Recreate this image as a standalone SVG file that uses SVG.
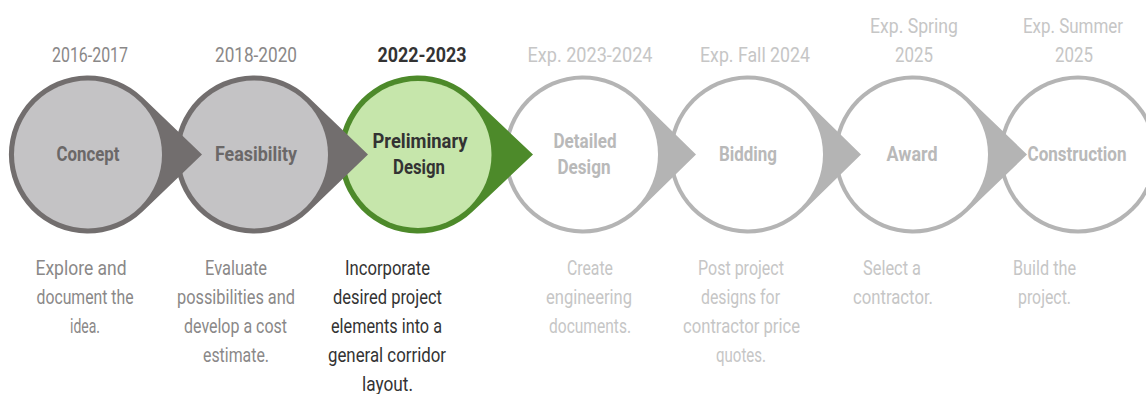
<svg xmlns="http://www.w3.org/2000/svg" width="1146" height="394" viewBox="0 0 1146 394">
<style>
text{font-family:"Liberation Sans Narrow","Roboto","Liberation Sans",sans-serif;text-anchor:middle}
.yr{font-size:21px}
.lb{font-size:20px;font-weight:bold}
.ds{font-size:19.5px}
.dk{fill:#8a8888}
.dkc{fill:#6b6868}
.cur{fill:#333333}
.lt{fill:#c6c6c6}
.ltc{fill:#b9b9b9}
.ring-dk{fill:#726e6e}.in-dk{fill:#c4c3c5}
.ring-gr{fill:#4d8a2a}.in-gr{fill:#c6e6ab}
.ring-lt{fill:#b4b4b4}.in-lt{fill:#ffffff}
</style>
<rect width="1146" height="394" fill="#ffffff"/>
<g id="connectors"></g>
<g id="node-construction">
<circle class="ring-lt" cx="1078" cy="154.5" r="79"/>
<circle class="in-lt" cx="1078" cy="154.5" r="75"/>
<text class="lb ltc" x="1077" y="161" textLength="99" lengthAdjust="spacingAndGlyphs">Construction</text>
</g>
<g id="node-award">
<path class="ring-lt" d="M967.7,97.6 A79,79 0 1 0 967.7,211.4 L1027,154.5 Z"/>
<circle class="in-lt" cx="913" cy="154.5" r="75"/>
<text class="lb ltc" x="912" y="161" textLength="51" lengthAdjust="spacingAndGlyphs">Award</text>
</g>
<g id="node-bidding">
<path class="ring-lt" d="M802.7,97.6 A79,79 0 1 0 802.7,211.4 L861,154.5 Z"/>
<circle class="in-lt" cx="748" cy="154.5" r="75"/>
<text class="lb ltc" x="748" y="161" textLength="58" lengthAdjust="spacingAndGlyphs">Bidding</text>
</g>
<g id="node-detailed">
<path class="ring-lt" d="M637.7,97.6 A79,79 0 1 0 637.7,211.4 L696,154.5 Z"/>
<circle class="in-lt" cx="583" cy="154.5" r="75"/>
<text class="lb ltc" x="585" y="148" textLength="63" lengthAdjust="spacingAndGlyphs">Detailed</text>
<text class="lb ltc" x="584" y="174" textLength="53" lengthAdjust="spacingAndGlyphs">Design</text>
</g>
<g id="node-preliminary">
<path class="ring-gr" d="M472.7,97.6 A79,79 0 1 0 472.7,211.4 L533,154.5 Z"/>
<circle class="in-gr" cx="418" cy="154.5" r="73.5"/>
<text class="lb cur" x="420" y="148" textLength="95" lengthAdjust="spacingAndGlyphs">Preliminary</text>
<text class="lb cur" x="419" y="174" textLength="52" lengthAdjust="spacingAndGlyphs">Design</text>
</g>
<g id="node-feasibility">
<path class="ring-dk" d="M308.7,97.6 A79,79 0 1 0 308.7,211.4 L368,154.5 Z"/>
<circle class="in-dk" cx="254" cy="154.5" r="74"/>
<text class="lb dkc" x="256" y="161" textLength="82" lengthAdjust="spacingAndGlyphs">Feasibility</text>
</g>
<g id="node-concept">
<path class="ring-dk" d="M142.7,97.6 A79,79 0 1 0 142.7,211.4 L202,154.5 Z"/>
<circle class="in-dk" cx="88" cy="154.5" r="74"/>
<text class="lb dkc" x="88" y="161" textLength="63" lengthAdjust="spacingAndGlyphs">Concept</text>
</g>
<g id="years">
<text class="yr dk" x="90" y="62" textLength="76" lengthAdjust="spacingAndGlyphs">2016-2017</text>
<text class="yr dk" x="256" y="62" textLength="82" lengthAdjust="spacingAndGlyphs">2018-2020</text>
<text class="yr cur" x="422" y="62" textLength="89" lengthAdjust="spacingAndGlyphs" font-weight="bold">2022-2023</text>
<text class="yr lt" x="590" y="62" textLength="125" lengthAdjust="spacingAndGlyphs">Exp. 2023-2024</text>
<text class="yr lt" x="755" y="62" textLength="110" lengthAdjust="spacingAndGlyphs">Exp. Fall 2024</text>
<text class="yr lt" x="914" y="33" textLength="88" lengthAdjust="spacingAndGlyphs">Exp. Spring</text>
<text class="yr lt" x="914" y="62" textLength="38" lengthAdjust="spacingAndGlyphs">2025</text>
<text class="yr lt" x="1073" y="33" textLength="100" lengthAdjust="spacingAndGlyphs">Exp. Summer</text>
<text class="yr lt" x="1074" y="62" textLength="38" lengthAdjust="spacingAndGlyphs">2025</text>
</g>
<g id="descriptions">
<text class="ds dk" x="81" y="275" textLength="91" lengthAdjust="spacingAndGlyphs">Explore and</text>
<text class="ds dk" x="85" y="304" textLength="97" lengthAdjust="spacingAndGlyphs">document the</text>
<text class="ds dk" x="85" y="333" textLength="30" lengthAdjust="spacingAndGlyphs">idea.</text>
<text class="ds dk" x="236" y="275" textLength="62" lengthAdjust="spacingAndGlyphs">Evaluate</text>
<text class="ds dk" x="236" y="304" textLength="118" lengthAdjust="spacingAndGlyphs">possibilities and</text>
<text class="ds dk" x="235.5" y="333" textLength="103" lengthAdjust="spacingAndGlyphs">develop a cost</text>
<text class="ds dk" x="236" y="362" textLength="66" lengthAdjust="spacingAndGlyphs">estimate.</text>
<text class="ds cur" x="387.5" y="275" textLength="85" lengthAdjust="spacingAndGlyphs">Incorporate</text>
<text class="ds cur" x="387.5" y="304" textLength="109" lengthAdjust="spacingAndGlyphs">desired project</text>
<text class="ds cur" x="386.5" y="333" textLength="111" lengthAdjust="spacingAndGlyphs">elements into a</text>
<text class="ds cur" x="387" y="362" textLength="118" lengthAdjust="spacingAndGlyphs">general corridor</text>
<text class="ds cur" x="387.5" y="391" textLength="51" lengthAdjust="spacingAndGlyphs">layout.</text>
<text class="ds lt" x="590" y="275" textLength="46" lengthAdjust="spacingAndGlyphs">Create</text>
<text class="ds lt" x="589" y="304" textLength="86" lengthAdjust="spacingAndGlyphs">engineering</text>
<text class="ds lt" x="590" y="333" textLength="82" lengthAdjust="spacingAndGlyphs">documents.</text>
<text class="ds lt" x="741" y="275" textLength="86" lengthAdjust="spacingAndGlyphs">Post project</text>
<text class="ds lt" x="740.5" y="304" textLength="79" lengthAdjust="spacingAndGlyphs">designs for</text>
<text class="ds lt" x="741.5" y="333" textLength="117" lengthAdjust="spacingAndGlyphs">contractor price</text>
<text class="ds lt" x="741" y="362" textLength="50" lengthAdjust="spacingAndGlyphs">quotes.</text>
<text class="ds lt" x="892" y="275" textLength="58" lengthAdjust="spacingAndGlyphs">Select a</text>
<text class="ds lt" x="893" y="304" textLength="80" lengthAdjust="spacingAndGlyphs">contractor.</text>
<text class="ds lt" x="1044.5" y="275" textLength="63" lengthAdjust="spacingAndGlyphs">Build the</text>
<text class="ds lt" x="1044.5" y="304" textLength="53" lengthAdjust="spacingAndGlyphs">project.</text>
</g>
</svg>
